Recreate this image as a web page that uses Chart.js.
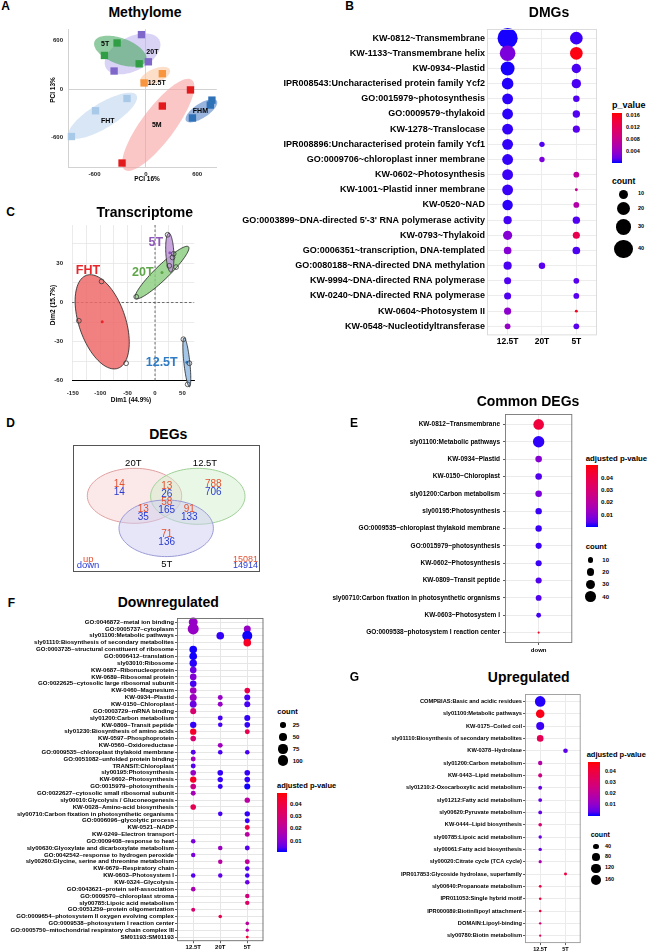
<!DOCTYPE html>
<html>
<head>
<meta charset="utf-8">
<title>Methylome and transcriptome</title>
<script src="https://cdn.jsdelivr.net/npm/chart.js@4.4.1/dist/chart.umd.min.js"></script>
<style>
  html, body { margin: 0; padding: 0; background: #fff; }
  body { position: relative; width: 650px; height: 952px; overflow: hidden; font-family: "Liberation Sans", Arial, Helvetica, sans-serif; }
  canvas { position: absolute; }
  .t { position: absolute; white-space: nowrap; line-height: 1; font-weight: bold; color: #000; }
  .bar, .dot { position: absolute; }
  .dot { background: #000; border-radius: 50%; }
</style>
</head>
<body>
<canvas id="methylome"></canvas>
<canvas id="dmgs"></canvas>
<canvas id="transcriptome"></canvas>
<canvas id="venn"></canvas>
<canvas id="common"></canvas>
<canvas id="down"></canvas>
<canvas id="up"></canvas>
<script>
const FONT = '"Liberation Sans", Arial, Helvetica, sans-serif';
const _ = null;

// A: methylome PCA (PC units)
const methGroups = ['20T', '5T', '12.5T', 'FHT', '5M', 'FHM'];
const methX = [[-51, 30, -371], [-336, -484, -78], [193, -20], [-220, -588, -870], [522, 193, -278], [773, 754, 545]];
const methY = [[673, 338, 224], [570, 416, 313], [191, 77], [-115, -266, -584], [-9, -208, -911], [-135, -196, -355]];
const methTicks = [-600, 0, 600];
// group ellipses: centre, semi-axes, tilt (deg)
const methEllCx = [-155, -298, 108, -503, 145, 650];
const methEllCy = [436, 469, 163, -327, -440, -266];
const methEllA = [357, 325, 190, 468, 680, 218];
const methEllB = [206, 159, 87, 151, 198, 87];
const methEllAng = [30, -22, 25, 33, 55, 35];

// B: DMGs
const dmgTerms = [
  'KW-0812~Transmembrane', 'KW-1133~Transmembrane helix', 'KW-0934~Plastid',
  'IPR008543:Uncharacterised protein family Ycf2', 'GO:0015979~photosynthesis', 'GO:0009579~thylakoid',
  'KW-1278~Translocase', 'IPR008896:Uncharacterised protein family Ycf1', 'GO:0009706~chloroplast inner membrane',
  'KW-0602~Photosynthesis', 'KW-1001~Plastid inner membrane', 'KW-0520~NAD',
  "GO:0003899~DNA-directed 5'-3' RNA polymerase activity", 'KW-0793~Thylakoid',
  'GO:0006351~transcription, DNA-templated', 'GO:0080188~RNA-directed DNA methylation',
  'KW-9994~DNA-directed RNA polymerase', 'KW-0240~DNA-directed RNA polymerase',
  'KW-0604~Photosystem II', 'KW-0548~Nucleotidyltransferase'];
const dmgCols = ['12.5T', '20T', '5T'];
const dmgN125 = [48, 29, 23, 16, 14, 14, 14, 14, 14, 14, 14, 13, 8, 10, 7, 8, 6, 6, 6, 4];
const dmgP125 = [.0001, .0025, .0001, .0002, .0003, .0003, .0004, .0004, .0004, .0005, .0005, .0003, .0007, .003, .003, .0008, .001, .001, .0035, .004];
const dmgN20 = [_, _, _, _, _, _, _, 3.4, 3.4, _, _, _, _, _, _, 5, _, _, _, _];
const dmgP20 = [_, _, _, _, _, _, _, .001, .0025, _, _, _, _, _, _, .0012, _, _, _, _];
const dmgN5 = [19, 19, 10.5, 10.5, 5, 6.5, 6, _, _, 4, 1, 4, 6.5, 6, 7, _, 4, 4, 1, 4];
const dmgP5 = [.0005, .0165, .0008, .0008, .001, .001, .0012, _, _, .007, .008, .0062, .001, .0128, .0009, _, .0012, .0012, .016, .0012];
const dmgPTicks = [0.016, 0.012, 0.008, 0.004];
const dmgCountKeys = [10, 20, 30, 40];

// C: transcriptome PCA (Dim units)
const trGroups = ['FHT', '20T', '5T', '12.5T'];
const trX = [[-97.5, -139, -52.7], [-34.3, 38.4, 34], [23, 32, 26], [51.8, 62.7, 59.6]];
const trY = [[16.2, -14, -46.6], [4.4, 27.2, 37.4], [52, 34.6, 28.2], [-28.2, -46.6, -62.8]];
const trGridX = [-150, -125, -100, -75, -50, -25, 0, 25, 50];
const trTickX = [-150, -100, -50, 0, 50];
const trGridY = [-60, -45, -30, -15, 0, 15, 30, 45];
const trTickY = [-60, -30, 0, 30];
const trEllU = [[28.6, -35.7], [48.4, 19.8], [1.85, -15.0], [4.8, -18.8]];
const trEllV = [[-40.3, -5.8], [8.85, -3.87], [-7.3, -0.16], [-5.4, -0.25]];

// D: DEG venn (regions: 20T, 20T&12.5T, 12.5T, 20T&5T, all, 12.5T&5T, 5T)
const vennSets = ['20T', '12.5T', '5T'];
const vennUp = [14, 13, 788, 13, 58, 91, 71];
const vennDown = [14, 26, 706, 35, 165, 133, 136];
const vennTotal = [15081, 14914];

// E: common DEGs
const commonTerms = [
  'KW-0812~Transmembrane', 'sly01100:Metabolic pathways', 'KW-0934~Plastid', 'KW-0150~Chloroplast',
  'sly01200:Carbon metabolism', 'sly00195:Photosynthesis', 'GO:0009535~chloroplast thylakoid membrane',
  'GO:0015979~photosynthesis', 'KW-0602~Photosynthesis', 'KW-0809~Transit peptide',
  'sly00710:Carbon fixation in photosynthetic organisms', 'KW-0603~Photosystem I',
  'GO:0009538~photosystem I reaction center'];
const commonCols = ['down'];
const commonN = [39, 45, 15, 15, 15, 14, 14, 13, 13, 13, 12, 8, 1.5];
const commonP = [.042, .001, .009, .003, .0075, .0015, .0015, .0015, .0015, .003, .003, .002, .046];
const adjTicks = [0.04, 0.03, 0.02, 0.01];
const commonCountKeys = [10, 20, 30, 40];

// F: downregulated
const downTerms = [
  'GO:0046872~metal ion binding', 'GO:0005737~cytoplasm', 'sly01100:Metabolic pathways',
  'sly01110:Biosynthesis of secondary metabolites', 'GO:0003735~structural constituent of ribosome',
  'GO:0006412~translation', 'sly03010:Ribosome', 'KW-0687~Ribonucleoprotein', 'KW-0689~Ribosomal protein',
  'GO:0022625~cytosolic large ribosomal subunit', 'KW-0460~Magnesium', 'KW-0934~Plastid', 'KW-0150~Chloroplast',
  'GO:0003729~mRNA binding', 'sly01200:Carbon metabolism', 'KW-0809~Transit peptide',
  'sly01230:Biosynthesis of amino acids', 'KW-0597~Phosphoprotein', 'KW-0560~Oxidoreductase',
  'GO:0009535~chloroplast thylakoid membrane', 'GO:0051082~unfolded protein binding', 'TRANSIT:Chloroplast',
  'sly00195:Photosynthesis', 'KW-0602~Photosynthesis', 'GO:0015979~photosynthesis',
  'GO:0022627~cytosolic small ribosomal subunit', 'sly00010:Glycolysis / Gluconeogenesis',
  'KW-0028~Amino-acid biosynthesis', 'sly00710:Carbon fixation in photosynthetic organisms',
  'GO:0006096~glycolytic process', 'KW-0521~NADP', 'KW-0249~Electron transport', 'GO:0009408~response to heat',
  'sly00630:Glyoxylate and dicarboxylate metabolism', 'GO:0042542~response to hydrogen peroxide',
  'sly00260:Glycine, serine and threonine metabolism', 'KW-0679~Respiratory chain', 'KW-0603~Photosystem I',
  'KW-0324~Glycolysis', 'GO:0043621~protein self-association', 'GO:0009570~chloroplast stroma',
  'sly00785:Lipoic acid metabolism', 'GO:0051259~protein oligomerization',
  'GO:0009654~photosystem II oxygen evolving complex', 'GO:0009538~photosystem I reaction center',
  'GO:0005750~mitochondrial respiratory chain complex III', 'SM01193:SM01193'];
const downCols = ['12.5T', '20T', '5T'];
const downN125 = [69, 104, _, _, 50, 50, 47, 37, 37, 37, 37, 42, 40, 31, _, 35, 35, 27, _, 21,
  21, 21, 27, 35, 27, 21, _, 27, _, _, _, _, 18, _, 17, _, _, 18, _, 18, _, _, 14, _, _, _, _];
const downP125 = [.012, .012, _, _, .001, .001, .0015, .006, .009, .003, .014, .013, .006, .03, _, .002, .044, .03, _, .004,
  .015, .004, .012, .045, .026, .015, _, .036, _, _, _, _, .008, _, .008, _, _, .004, _, .016, _, _, .03, _, _, _, _];
const downN20 = [_, _, 50, _, _, _, _, _, _, _, _, 21, 21, _, 21, 18, _, _, 21, 18,
  _, _, 27, 25, 21, _, _, _, 18, _, _, _, _, 18, _, 17, _, 17, _, _, _, _, _, 11, _, _, _];
const downP20 = [_, _, .002, _, _, _, _, _, _, _, _, .012, .012, _, .003, .003, _, _, .014, .003,
  _, _, .002, .002, .002, _, _, _, .003, _, _, _, _, .013, _, .02, _, .005, _, _, _, _, _, .037, _, _, _];
const downN5 = [_, 42, 86, 50, _, _, _, _, _, _, 27, 31, 31, _, 31, 27, 21, _, _, 18,
  _, _, 27, 27, 31, _, 25, _, 25, 21, 21, 21, _, 21, _, 21, 18, 18, 18, _, 17, 17, _, _, 11, 9, 7];
const downP5 = [_, .012, .001, .045, _, _, _, _, _, _, .038, .003, .003, _, .002, .002, .037, _, _, .003,
  _, _, .002, .002, .001, _, .02, _, .002, .002, .04, .02, _, .004, _, .022, .004, .003, .006, _, .028, .032, _, _, .02, .022, .042];
const downCountKeys = [25, 50, 75, 100];

// G: upregulated
const upTerms = [
  'COMPBIAS:Basic and acidic residues', 'sly01100:Metabolic pathways', 'KW-0175~Coiled coil',
  'sly01110:Biosynthesis of secondary metabolites', 'KW-0378~Hydrolase', 'sly01200:Carbon metabolism',
  'KW-0443~Lipid metabolism', 'sly01210:2-Oxocarboxylic acid metabolism', 'sly01212:Fatty acid metabolism',
  'sly00620:Pyruvate metabolism', 'KW-0444~Lipid biosynthesis', 'sly00785:Lipoic acid metabolism',
  'sly00061:Fatty acid biosynthesis', 'sly00020:Citrate cycle (TCA cycle)',
  'IPR017853:Glycoside hydrolase, superfamily', 'sly00640:Propanoate metabolism',
  'IPR011053:Single hybrid motif', 'IPR000089:Biotin/lipoyl attachment', 'DOMAIN:Lipoyl-binding',
  'sly00780:Biotin metabolism'];
const upCols = ['12.5T', '5T'];
const upN125 = [152, 100, 87, 60, _, 26, 22, 20, 20, 20, 18, 16, 16, 14, _, 11, 9, 9, 8, 7];
const upP125 = [.001, .047, .002, .036, _, .018, .026, .005, .005, .005, .029, .005, .005, .016, _, .04, .041, .041, .03, .035];
const upN5 = [_, _, _, _, 29, _, _, _, _, _, _, _, _, _, 12, _, _, _, _, _];
const upP5 = [_, _, _, _, .004, _, _, _, _, _, _, _, _, _, .04, _, _, _, _, _];
const upCountKeys = [40, 80, 120, 160];

// ---------- colour scale: blue -> red interpolated in Lab, like ggplot
function lin(c) { c /= 255; return c <= 0.04045 ? c / 12.92 : Math.pow((c + 0.055) / 1.055, 2.4); }
function gam(c) { c = Math.min(1, Math.max(0, c)); return Math.round(255 * (c <= 0.0031308 ? 12.92 * c : 1.055 * Math.pow(c, 1 / 2.4) - 0.055)); }
function toLab(rgb) {
  const [r, g, b] = rgb.map(lin);
  const f = t => t > 0.008856 ? Math.cbrt(t) : 7.787 * t + 16 / 116;
  const X = f((0.4124 * r + 0.3576 * g + 0.1805 * b) / 0.95047);
  const Y = f(0.2126 * r + 0.7152 * g + 0.0722 * b);
  const Z = f((0.0193 * r + 0.1192 * g + 0.9505 * b) / 1.08883);
  return [116 * Y - 16, 500 * (X - Y), 200 * (Y - Z)];
}
function fromLab([L, a, b]) {
  const fy = (L + 16) / 116, fx = fy + a / 500, fz = fy - b / 200;
  const inv = t => t > 0.206893 ? t * t * t : (t - 16 / 116) / 7.787;
  const X = 0.95047 * inv(fx), Y = inv(fy), Z = 1.08883 * inv(fz);
  return [3.2406 * X - 1.5372 * Y - 0.4986 * Z, -0.9689 * X + 1.8758 * Y + 0.0415 * Z, 0.0557 * X - 0.2040 * Y + 1.0570 * Z].map(gam);
}
const LOW = toLab([0, 0, 255]), HIGH = toLab([255, 0, 0]);
function pColor(p, dom) {
  const t = Math.min(1, Math.max(0, (p - dom[0]) / (dom[1] - dom[0])));
  return 'rgb(' + fromLab(LOW.map((v, i) => v + (HIGH[i] - v) * t)).join(',') + ')';
}

// ---------- html text + legends
function addText(str, x, y, size, opt = {}) {
  const d = document.createElement('div');
  d.className = 't';
  d.textContent = str;
  d.style.left = x + 'px';
  d.style.top = y + 'px';
  d.style.fontSize = size + 'px';
  if (opt.weight) d.style.fontWeight = opt.weight;
  if (opt.color) d.style.color = opt.color;
  const tx = opt.anchor === 'left' ? '0' : '-50%';
  d.style.transform = 'translate(' + tx + ',-50%)' + (opt.rotate ? ' rotate(' + opt.rotate + 'deg)' : '');
  document.body.appendChild(d);
}

function colorLegend(o) {
  addText(o.title, o.x, o.titleY, o.titleSize, { anchor: 'left' });
  const bar = document.createElement('div');
  bar.className = 'bar';
  const stops = [];
  for (let i = 0; i <= 12; i++) {
    const v = o.dom[1] - (o.dom[1] - o.dom[0]) * i / 12;
    stops.push(pColor(v, o.dom) + ' ' + (i / 12 * 100).toFixed(1) + '%');
  }
  Object.assign(bar.style, { left: o.barX + 'px', top: o.barY + 'px', width: o.barW + 'px', height: o.barH + 'px',
    background: 'linear-gradient(to bottom,' + stops.join(',') + ')' });
  document.body.appendChild(bar);
  o.ticks.forEach(v => {
    const y = o.barY + (1 - (v - o.dom[0]) / (o.dom[1] - o.dom[0])) * o.barH;
    addText(String(v), o.labelX, y, o.tickSize, { anchor: 'left' });
  });
}

function sizeLegend(o) {
  addText('count', o.titleX, o.titleY, o.titleSize, { anchor: 'left' });
  o.keys.forEach((c, i) => {
    const r = o.k * Math.sqrt(c);
    const d = document.createElement('div');
    d.className = 'dot';
    Object.assign(d.style, { left: (o.cx - r) + 'px', top: (o.ys[i] - r) + 'px', width: 2 * r + 'px', height: 2 * r + 'px' });
    document.body.appendChild(d);
    addText(String(c), o.labelX, o.ys[i], o.labelSize, { anchor: 'left' });
  });
}

// ---------- chart decorations drawn through the scales
const decorPlugin = {
  id: 'decor',
  beforeDatasetsDraw(chart, args, o) {
    const { ctx, chartArea: a, scales: { x, y } } = chart;
    if (o.zeroLines) {
      ctx.save();
      ctx.strokeStyle = '#4a4a4a';
      ctx.lineWidth = 0.8;
      ctx.setLineDash([2.5, 2]);
      ctx.beginPath();
      const px = x.getPixelForValue(0), py = y.getPixelForValue(0);
      ctx.moveTo(px, a.top); ctx.lineTo(px, a.bottom);
      ctx.moveTo(a.left, py); ctx.lineTo(a.right, py);
      ctx.stroke();
      ctx.restore();
    }
    (o.ellipses || []).forEach(e => {
      ctx.save();
      ctx.beginPath();
      for (let i = 0; i <= 90; i++) {
        const t = i / 90 * Math.PI * 2, c = Math.cos(t), s = Math.sin(t);
        const px = x.getPixelForValue(e.cx + c * e.ux + s * e.vx);
        const py = y.getPixelForValue(e.cy + c * e.uy + s * e.vy);
        if (i) ctx.lineTo(px, py); else ctx.moveTo(px, py);
      }
      ctx.closePath();
      ctx.fillStyle = e.fill;
      ctx.fill();
      if (e.stroke) { ctx.strokeStyle = e.stroke; ctx.lineWidth = e.lw || 1; ctx.stroke(); }
      ctx.restore();
    });
  },
  afterDatasetsDraw(chart, args, o) {
    const { ctx, chartArea: a, scales: { x, y } } = chart;
    (o.labels || []).forEach(l => {
      ctx.save();
      ctx.font = l.font;
      ctx.fillStyle = l.color || '#000';
      ctx.textAlign = l.align || 'center';
      ctx.textBaseline = 'middle';
      ctx.fillText(l.text, x.getPixelForValue(l.x), y.getPixelForValue(l.y));
      ctx.restore();
    });
    if (o.frame) {
      ctx.save();
      ctx.strokeStyle = o.frame;
      ctx.lineWidth = o.frameWidth || 1;
      ctx.strokeRect(a.left + 0.5, a.top + 0.5, a.width - 1, a.height - 1);
      ctx.restore();
    }
  }
};

// place a canvas so that its chart area lands on the given box
function place(id, box, yw, xh, padT) {
  const cv = document.getElementById(id);
  const W = Math.ceil(yw + box.w + 4), H = Math.ceil(padT + box.h + xh);
  cv.width = W; cv.height = H;
  cv.style.left = (box.l - yw) + 'px';
  cv.style.top = (box.t - padT) + 'px';
  return { cv, padR: W - yw - box.w, xh: H - padT - box.h };
}

function tickFont(size) { return { family: FONT, weight: 'bold', size }; }

// ---------- bubble panels
function bubblePanel(id, o) {
  const padT = 6;
  const { cv, padR, xh } = place(id, o, o.yw, o.xh, padT);
  const datasets = o.series.map((s, col) => ({
    data: s.n.map((n, i) => n == null ? null : { x: col, y: i, r: o.k * Math.sqrt(n), p: s.p[i] }).filter(Boolean),
    backgroundColor: c => c.raw ? pColor(c.raw.p, o.dom) : '#000',
    borderWidth: 0, hoverRadius: 0, clip: false
  }));
  new Chart(cv, {
    type: 'bubble',
    data: { datasets },
    options: {
      responsive: false, animation: false, events: [],
      layout: { padding: { top: padT, right: padR, left: 0, bottom: 0 } },
      plugins: { legend: { display: false }, tooltip: { enabled: false }, decor: { frame: o.frame, frameWidth: 0.9 } },
      scales: {
        x: {
          type: 'linear', min: -0.6, max: o.cols.length - 0.4,
          afterBuildTicks: s => { s.ticks = o.cols.map((c, i) => ({ value: i })); },
          afterFit: s => { s.height = xh; s.paddingLeft = 0; s.paddingRight = 0; },
          grid: { color: o.grid, drawTicks: o.tl > 0, tickLength: o.tl, tickColor: '#333', tickWidth: 0.8 },
          border: { display: false },
          ticks: { callback: v => o.cols[v], autoSkip: false, maxRotation: 0, padding: o.xpad, color: '#000', font: tickFont(o.xfs) }
        },
        y: {
          type: 'linear', reverse: true, min: -0.6, max: o.rows.length - 0.4,
          afterBuildTicks: s => { s.ticks = o.rows.map((r, i) => ({ value: i })); },
          afterFit: s => { s.width = o.yw; s.paddingTop = 0; s.paddingBottom = 0; },
          grid: { color: o.grid, drawTicks: o.tl > 0, tickLength: o.tl, tickColor: '#333', tickWidth: 0.8 },
          border: { display: false },
          ticks: { callback: v => o.rows[v], autoSkip: false, padding: o.ypad, color: '#000', font: tickFont(o.yfs) }
        }
      }
    },
    plugins: [decorPlugin]
  });
}

// ---------- A: methylome
(function () {
  const box = { l: 68, t: 28, w: 150, h: 139 };
  const { cv, padR, xh } = place('methylome', box, 20, 14, 4);
  const ptColor = ['#7f66c9', '#2f9e44', '#f7963e', '#a9c9e9', '#e31a1c', '#2f72b8'];
  const ellFill = ['rgba(186,174,238,0.55)', 'rgba(72,168,98,0.6)', 'rgba(250,200,165,0.6)', 'rgba(200,220,241,0.7)', 'rgba(246,160,160,0.6)', 'rgba(98,142,204,0.65)'];
  const ellipses = methGroups.map((g, i) => {
    const r = methEllAng[i] * Math.PI / 180;
    return { cx: methEllCx[i], cy: methEllCy[i], ux: methEllA[i] * Math.cos(r), uy: methEllA[i] * Math.sin(r),
      vx: -methEllB[i] * Math.sin(r), vy: methEllB[i] * Math.cos(r), fill: ellFill[i] };
  });
  const labelAt = [[77, 460], [-476, 558], [128, 77], [-445, -388], [128, -437], [638, -266]];
  const labels = methGroups.map((g, i) => ({ text: g, x: labelAt[i][0], y: labelAt[i][1], font: 'bold 7px ' + FONT }));
  const zeroGrid = c => (c.tick && c.tick.value === 0) ? '#d2d2d2' : 'rgba(0,0,0,0)';
  new Chart(cv, {
    type: 'scatter',
    data: {
      datasets: methGroups.map((g, i) => ({
        label: g,
        data: methX[i].map((x, j) => ({ x, y: methY[i][j] })),
        pointStyle: 'rect', pointRadius: 5.2, pointBackgroundColor: ptColor[i], pointBorderWidth: 0, clip: false
      }))
    },
    options: {
      responsive: false, animation: false, events: [],
      layout: { padding: { top: 4, right: padR, left: 0, bottom: 0 } },
      plugins: { legend: { display: false }, tooltip: { enabled: false }, decor: { ellipses, labels } },
      scales: {
        x: {
          type: 'linear', min: -910, max: 830,
          afterBuildTicks: s => { s.ticks = methTicks.map(v => ({ value: v })); },
          afterFit: s => { s.height = xh; s.paddingLeft = 0; s.paddingRight = 0; },
          grid: { color: zeroGrid, drawTicks: false }, border: { display: true, color: '#d2d2d2' },
          ticks: { padding: 4, color: '#222', font: tickFont(6) }
        },
        y: {
          type: 'linear', min: -960, max: 740,
          afterBuildTicks: s => { s.ticks = methTicks.map(v => ({ value: v })); },
          afterFit: s => { s.width = 20; s.paddingTop = 0; s.paddingBottom = 0; },
          grid: { color: zeroGrid, drawTicks: false }, border: { display: true, color: '#d2d2d2' },
          ticks: { padding: 5, color: '#222', font: tickFont(6) }
        }
      }
    },
    plugins: [decorPlugin]
  });
})();

// ---------- C: transcriptome
(function () {
  const box = { l: 72.3, t: 225, w: 122.7, h: 155.7 };
  const { cv, padR, xh } = place('transcriptome', box, 20, 17, 6);
  const fill = ['rgba(238,106,106,0.85)', 'rgba(136,205,124,0.8)', 'rgba(192,152,216,0.85)', 'rgba(150,188,228,0.85)'];
  const textColor = ['#e8262b', '#5fa64a', '#8e58b8', '#2f7bc4'];
  const mean = a => a.reduce((s, v) => s + v, 0) / a.length;
  const ellipses = trGroups.map((g, i) => ({ cx: mean(trX[i]), cy: mean(trY[i]), ux: trEllU[i][0], uy: trEllU[i][1],
    vx: trEllV[i][0], vy: trEllV[i][1], fill: fill[i], stroke: '#222', lw: 0.8 }));
  const labelAt = [[-122.4, 24.6], [-22.4, 22.8], [1.3, 45.9], [12.2, -45.9]];
  const labels = trGroups.map((g, i) => ({ text: g, x: labelAt[i][0], y: labelAt[i][1], color: textColor[i], font: 'bold 12.5px ' + FONT }));
  const datasets = trGroups.map((g, i) => ({
    label: g,
    data: trX[i].map((x, j) => ({ x, y: trY[i][j] })),
    pointRadius: 2.4, pointBackgroundColor: 'rgba(0,0,0,0)', pointBorderColor: '#3a3a3a', pointBorderWidth: 0.8, clip: false
  }));
  datasets.push({
    label: 'centroid',
    data: trGroups.map((g, i) => ({ x: mean(trX[i]), y: mean(trY[i]) })),
    pointRadius: 1.5, pointBorderWidth: 0, pointBackgroundColor: textColor, clip: false
  });
  new Chart(cv, {
    type: 'scatter',
    data: { datasets },
    options: {
      responsive: false, animation: false, events: [],
      layout: { padding: { top: 6, right: padR, left: 0, bottom: 0 } },
      plugins: { legend: { display: false }, tooltip: { enabled: false }, decor: { zeroLines: true, ellipses, labels } },
      scales: {
        x: {
          type: 'linear', min: -151.5, max: 71.5,
          afterBuildTicks: s => { s.ticks = trGridX.map(v => ({ value: v })); },
          afterFit: s => { s.height = xh; s.paddingLeft = 0; s.paddingRight = 0; },
          grid: { color: '#e6e6e6', lineWidth: 0.8, drawTicks: false }, border: { display: true, color: '#000', width: 1 },
          ticks: { callback: v => trTickX.includes(v) ? String(v) : '', autoSkip: false, maxRotation: 0, padding: 9, color: '#222', font: tickFont(6) }
        },
        y: {
          type: 'linear', min: -60, max: 59.5,
          afterBuildTicks: s => { s.ticks = trGridY.map(v => ({ value: v })); },
          afterFit: s => { s.width = 20; s.paddingTop = 0; s.paddingBottom = 0; },
          grid: { color: c => (c.tick && c.tick.value === -150) ? '#cfcfcf' : '#e6e6e6', lineWidth: 0.8, drawTicks: false },
          border: { display: false },
          ticks: { callback: v => trTickY.includes(v) ? String(v) : '', autoSkip: false, padding: 9, color: '#222', font: tickFont(6) }
        }
      }
    },
    plugins: [decorPlugin]
  });
})();

// ---------- D: venn
(function () {
  const cv = document.getElementById('venn');
  cv.width = 187; cv.height = 127;
  cv.style.left = '73px'; cv.style.top = '445px';
  const regionX = [46.3, 93.7, 140.3, 70.3, 93.7, 116.3, 93.7];
  const regionY = [43.7, 45, 43, 68, 61.5, 68, 93.5];
  const circleX = [61.5, 124.8, 93.2], circleY = [50.8, 51.3, 83.3], circleRy = [27.5, 28, 28.3];
  const setLabelX = [60.3, 132, 93.7], setLabelY = [18, 18, 119];
  const fills = ['rgba(246,200,200,0.42)', 'rgba(205,238,200,0.45)', 'rgba(205,205,242,0.5)'];
  const strokes = ['#dfa0a0', '#9fd096', '#9a9ad6'];
  const ellipses = vennSets.map((s, i) => ({ cx: circleX[i], cy: circleY[i], ux: 47.2, uy: 0, vx: 0, vy: circleRy[i], fill: fills[i], stroke: strokes[i], lw: 1 }));
  const num = 'normal 10px ' + FONT;
  const labels = [];
  vennUp.forEach((v, i) => {
    labels.push({ text: String(v), x: regionX[i], y: regionY[i] - 4, color: '#e5502f', font: num });
    labels.push({ text: String(vennDown[i]), x: regionX[i], y: regionY[i] + 4, color: '#2a3bd0', font: num });
  });
  vennSets.forEach((s, i) => labels.push({ text: s, x: setLabelX[i], y: setLabelY[i], font: 'normal 9.5px ' + FONT }));
  labels.push({ text: 'up', x: 15.2, y: 114.3, color: '#e5502f', font: 'normal 9.5px ' + FONT });
  labels.push({ text: 'down', x: 15, y: 120.7, color: '#2a3bd0', font: 'normal 9.5px ' + FONT });
  labels.push({ text: String(vennTotal[0]), x: 185, y: 114.3, color: '#e5502f', align: 'right', font: 'normal 9px ' + FONT });
  labels.push({ text: String(vennTotal[1]), x: 185, y: 120.7, color: '#2a3bd0', align: 'right', font: 'normal 9px ' + FONT });
  new Chart(cv, {
    type: 'scatter',
    data: { datasets: [{ data: regionX.map((x, i) => ({ x, y: regionY[i] })), pointRadius: 0 }] },
    options: {
      responsive: false, animation: false, events: [],
      layout: { padding: 0 },
      plugins: { legend: { display: false }, tooltip: { enabled: false }, decor: { ellipses, labels, frame: '#555', frameWidth: 1 } },
      scales: {
        x: { type: 'linear', min: 0, max: 187, display: false },
        y: { type: 'linear', min: 0, max: 127, reverse: true, display: false }
      }
    },
    plugins: [decorPlugin]
  });
})();

// ---------- B, E, F, G bubble panels
const dmgDom = [0, 0.017];
bubblePanel('dmgs', {
  l: 487, t: 24.8, w: 116, h: 310.4, yw: 252, xh: 14,
  rows: dmgTerms, cols: dmgCols, k: 1.45, dom: dmgDom,
  series: [{ n: dmgN125, p: dmgP125 }, { n: dmgN20, p: dmgP20 }, { n: dmgN5, p: dmgP5 }],
  frame: '#d9d9d9', grid: '#ececec', tl: 0, xpad: 1.5, ypad: 2, yfs: 9, xfs: 8.5
});

const commonDom = [0, 0.0504];
bubblePanel('common', {
  l: 505, t: 414, w: 69, h: 229, yw: 175, xh: 11,
  rows: commonTerms, cols: commonCols, k: 0.85, dom: commonDom,
  series: [{ n: commonN, p: commonP }],
  frame: '#777', grid: '#ebebeb', tl: 2, xpad: 1.3, ypad: 3, yfs: 6.5, xfs: 6
});

const downDom = [0.0008, 0.049];
bubblePanel('down', {
  l: 177, t: 618.2, w: 88, h: 323.2, yw: 175, xh: 11,
  rows: downTerms, cols: downCols, k: 0.54, dom: downDom,
  series: [{ n: downN125, p: downP125 }, { n: downN20, p: downP20 }, { n: downN5, p: downP5 }],
  frame: '#6a6a6a', grid: '#e6e6e6', tl: 2, xpad: 1, ypad: 1, yfs: 6.1, xfs: 6
});

const upDom = [0.0004, 0.049];
bubblePanel('up', {
  l: 524.6, t: 693.8, w: 56.5, h: 249.1, yw: 135, xh: 11,
  rows: upTerms, cols: upCols, k: 0.43, dom: upDom,
  series: [{ n: upN125, p: upP125 }, { n: upN5, p: upP5 }],
  frame: '#9a9a9a', grid: '#ebebeb', tl: 2, xpad: 1, ypad: 1, yfs: 5.7, xfs: 5.5
});

// ---------- legends
colorLegend({ title: 'p_value', x: 612, titleY: 105, titleSize: 9, barX: 612, barY: 113.3, barW: 10, barH: 50,
  dom: dmgDom, ticks: dmgPTicks, labelX: 626, tickSize: 5.5 });
sizeLegend({ titleX: 612, titleY: 181, titleSize: 8.6, keys: dmgCountKeys, k: 1.45, cx: 623.5,
  ys: [194.3, 208.8, 227, 249], labelX: 638, labelSize: 5.5 });

colorLegend({ title: 'adjusted p-value', x: 585.7, titleY: 459, titleSize: 7.8, barX: 586, barY: 465, barW: 12, barH: 62,
  dom: commonDom, ticks: adjTicks, labelX: 601, tickSize: 6.2 });
sizeLegend({ titleX: 585.7, titleY: 546.7, titleSize: 7.7, keys: commonCountKeys, k: 0.85, cx: 590.7,
  ys: [560, 572.3, 584.3, 596.7], labelX: 602.3, labelSize: 6 });

colorLegend({ title: 'adjusted p-value', x: 277, titleY: 785.7, titleSize: 7.5, barX: 277, barY: 793, barW: 10, barH: 59,
  dom: downDom, ticks: adjTicks, labelX: 290, tickSize: 6 });
sizeLegend({ titleX: 277.3, titleY: 711.7, titleSize: 7.5, keys: downCountKeys, k: 0.54, cx: 283,
  ys: [725, 736.7, 749, 760.7], labelX: 292.7, labelSize: 6 });

colorLegend({ title: 'adjusted p-value', x: 586.7, titleY: 755, titleSize: 7.5, barX: 588, barY: 761.7, barW: 12, barH: 54,
  dom: upDom, ticks: adjTicks, labelX: 605, tickSize: 5.5 });
sizeLegend({ titleX: 590.7, titleY: 834, titleSize: 7, keys: upCountKeys, k: 0.43, cx: 596,
  ys: [846.7, 856.7, 868.3, 880], labelX: 605, labelSize: 5.5 });

// ---------- titles, panel letters, axis titles
[['A', 5.5, 5.5], ['B', 349.5, 6], ['C', 10.5, 212], ['D', 10.5, 422.5], ['E', 354, 422.5], ['F', 11.5, 603], ['G', 354.5, 677]]
  .forEach(([s, x, y]) => addText(s, x, y, 12));
[['Methylome', 145, 11.7], ['DMGs', 549, 12], ['Transcriptome', 144.7, 212.3], ['DEGs', 168.3, 434.3],
  ['Common DEGs', 528, 401], ['Downregulated', 168.3, 602.3], ['Upregulated', 528.7, 677.3]]
  .forEach(([s, x, y]) => addText(s, x, y, 14));
addText('PCI 16%', 147, 179, 6.5);
addText('PCI 13%', 52.5, 90, 6.5, { rotate: -90 });
addText('Dim1 (44.9%)', 131, 399.5, 6.5);
addText('Dim2 (15.7%)', 52.5, 305, 6.5, { rotate: -90 });
</script>
</body>
</html>
